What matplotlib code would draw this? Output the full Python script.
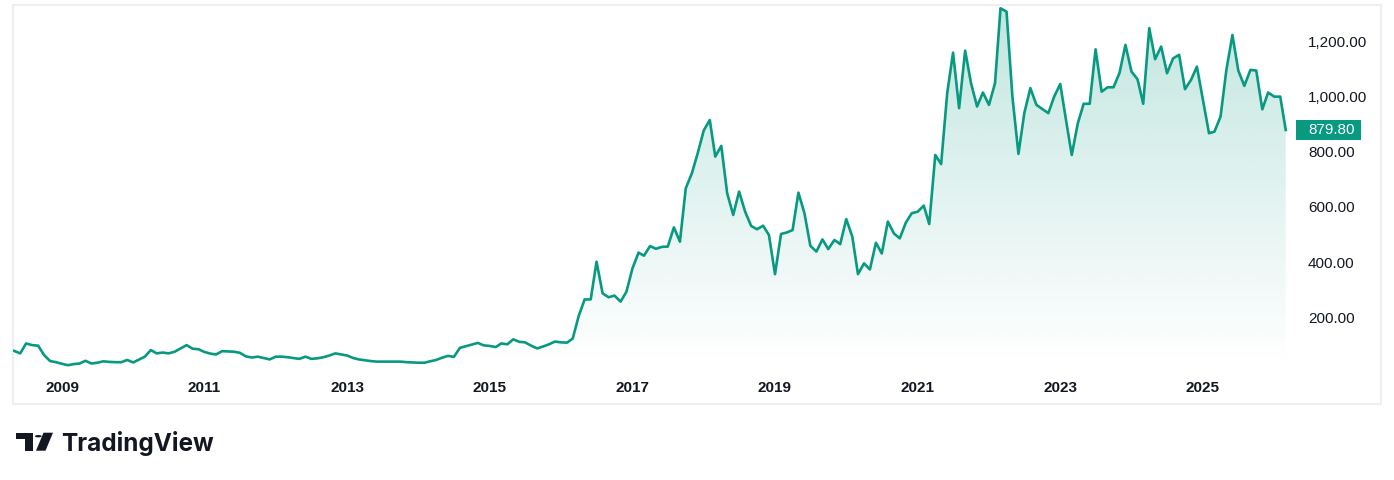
import numpy as np
import pandas as pd
import matplotlib
matplotlib.use("Agg")
import matplotlib.pyplot as plt
import matplotlib.transforms as mtransforms
from matplotlib.patches import Rectangle, Circle, Polygon

# monthly closes, May 2008 .. Mar 2026
start_month = "2008-05-01"
prices = [
    77, 68, 104, 98, 96, 62, 40, 36, 30, 25, 29, 31,
    41, 31, 34, 39, 37, 36, 36, 44, 35, 46, 56, 80,
    68, 71, 68, 74, 86, 98, 85, 83, 73, 67, 64, 76,
    75, 74, 70, 57, 53, 56, 51, 46, 56, 56, 54, 51,
    48, 56, 48, 50, 54, 60, 68, 64, 60, 51, 46, 43,
    40, 38, 38, 38, 38, 38, 36, 35, 34, 34, 39, 44,
    52, 59, 55, 88, 94, 100, 106, 97, 95, 91, 104, 101,
    119, 110, 108, 96, 86, 93, 101, 111, 108, 107, 122, 205,
    264, 264, 401, 286, 272, 278, 256, 292, 377, 434, 423, 458,
    448, 455, 456, 526, 474, 668, 722, 795, 878, 916, 783, 822,
    650, 571, 656, 583, 531, 519, 532, 498, 356, 502, 507, 516,
    652, 577, 459, 438, 482, 447, 480, 465, 556, 492, 356, 395,
    373, 470, 431, 547, 504, 486, 543, 577, 583, 605, 538, 789,
    756, 1013, 1161, 959, 1168, 1050, 965, 1016, 971, 1050, 1322, 1310,
    1001, 793, 941, 1032, 971, 956, 941, 1001, 1047, 910, 789, 904,
    975, 975, 1173, 1019, 1035, 1035, 1088, 1189, 1092, 1064, 975, 1250,
    1137, 1183, 1086, 1140, 1153, 1028, 1062, 1110, 989, 868, 874, 928,
    1098, 1225, 1096, 1040, 1098, 1096, 955, 1016, 1001, 1001, 879.80,
]
last_price = 879.80
price_ticks = [200, 400, 600, 800, 1000, 1200]
year_ticks = [2009, 2011, 2013, 2015, 2017, 2019, 2021, 2023, 2025]

dates = pd.date_range(start_month, periods=len(prices), freq="MS")

W, H = 1394, 480
green = "#089981"
plt.rcParams["font.family"] = ["Liberation Sans", "DejaVu Sans"]

fig = plt.figure(figsize=(W / 100, H / 100), dpi=100)
ax = fig.add_axes([13 / W, 1 - 404 / H, (1381 - 13) / W, (404 - 5) / H])

# line + gradient area
ax.plot(dates, prices, color=green, lw=1.9, solid_joinstyle="round", zorder=3)
base = 30
poly = ax.fill_between(dates, prices, base, color="none", lw=0)
x0 = matplotlib.dates.date2num(dates[0])
x1 = matplotlib.dates.date2num(dates[-1])
grad = np.zeros((256, 1, 4))
grad[:, 0, 0] = 8 / 255
grad[:, 0, 1] = 153 / 255
grad[:, 0, 2] = 129 / 255
grad[:, 0, 3] = np.linspace(0.0, 0.25, 256)
img = ax.imshow(grad, extent=[x0, x1, base, 1334], origin="lower",
                aspect="auto", zorder=2, interpolation="bilinear")
img.set_clip_path(poly.get_paths()[0], ax.transData)
ax.set_xlim(pd.Timestamp("2008-04-25"), pd.Timestamp("2027-07-02"))
ax.set_ylim(-116, 1334)

# axes styling
for s in ax.spines.values():
    s.set_color("#efeff1")
    s.set_linewidth(1.5)
ax.yaxis.tick_right()
ax.set_yticks(price_ticks)
ax.set_yticklabels([f"{v:,.2f}" for v in price_ticks])
ax.tick_params(axis="y", length=0, pad=-52.6, labelsize=11, labelcolor="#131722")
ax.set_xticks([pd.Timestamp(f"{y}-01-01") for y in year_ticks])
ax.set_xticklabels([str(y) for y in year_ticks], fontweight="bold")
ax.tick_params(axis="x", length=0, pad=-16.5, labelsize=11, labelcolor="#131722")

# last price tag
blend = mtransforms.blended_transform_factory(ax.transAxes, ax.transData)
ax.add_patch(Rectangle(((1296 - 13) / 1368, last_price - 36.4), 65 / 1368, 72.7,
                       transform=blend, fc=green, ec="none", zorder=5, clip_on=False))
ax.text((1308 - 13) / 1368, last_price, f"{last_price:.2f}", transform=blend,
        ha="left", va="center", color="white", fontsize=11, zorder=6)

# TradingView logo
def px(x, y):
    return (x / W, 1 - y / H)

tf = fig.transFigure
fig.patches.append(Polygon([px(15.7, 432.7), px(33.3, 432.7), px(33.3, 450.7),
                            px(25, 450.7), px(25, 439.3), px(15.7, 439.3)],
                           closed=True, fc="#131722", ec="none", transform=tf))
fig.patches.append(Circle(px(38.3, 436.2), 3.4 / W, fc="#131722", ec="none",
                          transform=tf))
fig.patches.append(Polygon([px(43.5, 432.7), px(53, 432.7), px(45.5, 450.7),
                            px(36, 450.7)],
                           closed=True, fc="#131722", ec="none", transform=tf))
fig.text(61.5 / W, 1 - 450.7 / H, "TradingView", fontsize=17.5, fontweight="bold",
         family=["Inter", "DejaVu Sans"], color="#131722", ha="left", va="baseline")

fig.savefig("out.png", dpi=100, facecolor="white")
